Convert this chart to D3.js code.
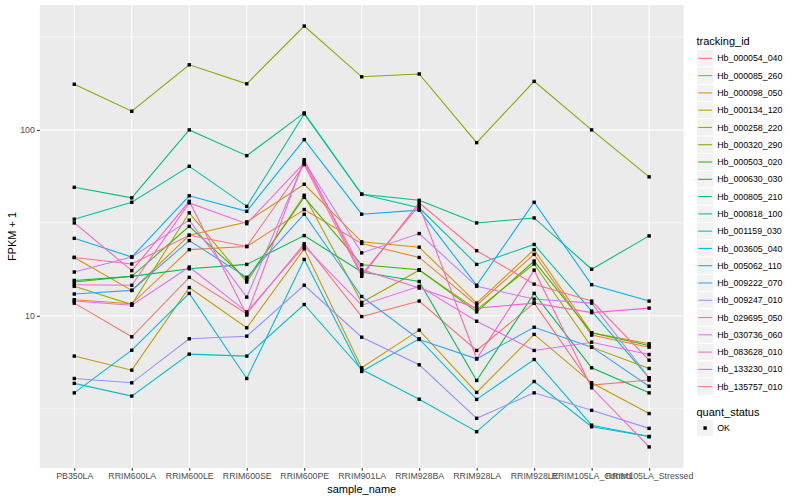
<!DOCTYPE html>
<html><head><meta charset="utf-8">
<script src="https://cdn.jsdelivr.net/npm/d3@7"></script>
<style>
body{margin:0;background:#fff}
text{font-family:"Liberation Sans",Arial,Helvetica,sans-serif}
</style>
</head><body>
<svg id="chart" width="800" height="500"></svg>
<script>
// ---- data ----
const samples = ["PB350LA","RRIM600LA","RRIM600LE","RRIM600SE","RRIM600PE","RRIM901LA","RRIM928BA","RRIM928LA","RRIM928LE","RRIM105LA_Control","RRIM105LA_Stressed"];
const trackingIds = ["Hb_000054_040","Hb_000085_260","Hb_000098_050","Hb_000134_120","Hb_000258_220","Hb_000320_290","Hb_000503_020","Hb_000630_030","Hb_000805_210","Hb_000818_100","Hb_001159_030","Hb_003605_040","Hb_005062_110","Hb_009222_070","Hb_009247_010","Hb_029695_050","Hb_030736_060","Hb_083628_010","Hb_133230_010","Hb_135757_010"];
const palette = ["#F8766D","#EA8331","#D89000","#C09B00","#A3A500","#7CAE00","#39B600","#00BB4E","#00BF7D","#00C1A3","#00BFC4","#00BAE0","#00B0F6","#35A2FF","#9590FF","#C77CFF","#E76BF3","#FA62DB","#FF62BC","#FF6C91"];
const statusLabels = ["OK"];
const yTickValues = [10, 100];
const yTickLabels = ["10", "100"];

const Hb_000054_040 = [11.7, 7.71, 16.1, 10.25, 24.4, 9.9, 12.0, 6.51, 11.7, 4.24, 4.51];
const Hb_000085_260 = [12.2, 11.6, 22.7, 23.6, 37.3, 24.5, 20.6, 11.4, 21.4, 7.87, 6.78];
const Hb_000098_050 = [20.6, 13.7, 27.1, 32.0, 51.0, 25.0, 23.4, 11.7, 22.7, 8.1, 7.07];
const Hb_000134_120 = [6.07, 5.10, 14.2, 8.62, 22.9, 5.25, 8.37, 3.87, 7.94, 4.36, 2.98];
const Hb_000258_220 = [14.4, 11.5, 35.8, 15.2, 44.5, 11.8, 17.6, 10.8, 19.0, 6.78, 5.21];
const Hb_000320_290 = [176, 126, 224, 177, 362, 193, 200, 85.4, 182.5, 100, 55.9];
const Hb_000503_020 = [15.2, 16.3, 30.3, 15.7, 43.4, 18.8, 17.7, 10.5, 19.7, 8.1, 6.92];
const Hb_000630_030 = [15.5, 16.3, 17.9, 18.9, 27.0, 17.2, 15.3, 4.49, 13.2, 5.25, 3.85];
const Hb_000805_210 = [49.1, 43.1, 100, 72.7, 123.4, 45.1, 41.8, 31.6, 33.6, 17.8, 26.9];
const Hb_000818_100 = [33.1, 40.8, 63.7, 38.8, 121.9, 45.1, 38.1, 18.9, 24.2, 10.6, 4.64];
const Hb_001159_030 = [4.33, 3.70, 6.22, 6.07, 11.5, 5.14, 3.56, 2.38, 4.43, 2.53, 2.24];
const Hb_003605_040 = [3.85, 6.53, 13.2, 4.60, 20.1, 5.02, 7.52, 3.55, 5.82, 2.58, 2.24];
const Hb_005062_110 = [26.1, 20.7, 44.2, 36.5, 88.7, 35.2, 37.0, 14.6, 40.8, 14.7, 12.0];
const Hb_009222_070 = [13.1, 13.7, 25.4, 16.1, 35.2, 12.7, 7.46, 5.87, 8.68, 6.78, 4.18];
const Hb_009247_010 = [4.60, 4.36, 7.52, 7.77, 14.6, 7.67, 5.45, 2.81, 3.85, 3.10, 2.48];
const Hb_029695_050 = [17.2, 20.7, 32.7, 12.6, 67.5, 21.8, 27.7, 14.4, 12.3, 11.7, 4.64];
const Hb_030736_060 = [12.0, 11.4, 18.3, 10.5, 23.7, 11.4, 14.4, 9.35, 6.51, 7.21, 6.19];
const Hb_083628_010 = [14.7, 14.6, 40.5, 31.3, 66.5, 17.7, 14.1, 11.0, 11.7, 10.4, 11.0];
const Hb_133230_010 = [31.6, 17.5, 41.3, 10.1, 69.2, 16.7, 39.3, 5.87, 17.6, 4.10, 1.97];
const Hb_135757_010 = [20.6, 19.0, 27.1, 23.6, 65.1, 16.3, 40.5, 22.4, 14.8, 12.0, 5.77];

const seriesValues = [Hb_000054_040,Hb_000085_260,Hb_000098_050,Hb_000134_120,Hb_000258_220,Hb_000320_290,Hb_000503_020,Hb_000630_030,Hb_000805_210,Hb_000818_100,Hb_001159_030,Hb_003605_040,Hb_005062_110,Hb_009222_070,Hb_009247_010,Hb_029695_050,Hb_030736_060,Hb_083628_010,Hb_133230_010,Hb_135757_010];

const series = trackingIds.map((id, i) => ({
  id, color: palette[i],
  values: samples.map((s, j) => ({sample: s, value: seriesValues[i][j], status: statusLabels[0]}))
}));
const allPoints = series.flatMap(s => s.values);

// ---- layout ----
const svg = d3.select("#chart");
const panel = {left: 39.8, right: 683.6, top: 5, bottom: 468};

const x = d3.scalePoint().domain(samples).range([panel.left, panel.right]).padding(0.6);
const ext = d3.extent(allPoints, d => Math.log10(d.value));
const pad = (ext[1] - ext[0]) * 0.05;
const y = d3.scaleLog().domain([Math.pow(10, ext[0] - pad), Math.pow(10, ext[1] + pad)]).range([panel.bottom, panel.top]);

svg.append("rect").attr("x", panel.left).attr("y", panel.top)
  .attr("width", panel.right - panel.left).attr("height", panel.bottom - panel.top)
  .attr("fill", "#EBEBEB");

// minor y grid (midpoints in log space)
const minorY = [];
for (let k = -1; k <= 4; k++) {
  const v = Math.pow(10, k + 0.5);
  if (v > y.domain()[0] && v < y.domain()[1]) minorY.push(v);
}
svg.append("g").selectAll("line").data(minorY).join("line")
  .attr("x1", panel.left).attr("x2", panel.right)
  .attr("y1", d => y(d)).attr("y2", d => y(d))
  .attr("stroke", "#fff").attr("stroke-width", 0.55);
svg.append("g").selectAll("line").data(yTickValues).join("line")
  .attr("x1", panel.left).attr("x2", panel.right)
  .attr("y1", d => y(d)).attr("y2", d => y(d))
  .attr("stroke", "#fff").attr("stroke-width", 1.1);
svg.append("g").selectAll("line").data(samples).join("line")
  .attr("x1", d => x(d)).attr("x2", d => x(d))
  .attr("y1", panel.top).attr("y2", panel.bottom)
  .attr("stroke", "#fff").attr("stroke-width", 1.1);

// lines
const line = d3.line().x(d => x(d.sample)).y(d => y(d.value));
svg.append("g").selectAll("path").data(series).join("path")
  .attr("d", d => line(d.values))
  .attr("fill", "none").attr("stroke", d => d.color).attr("stroke-width", 1.07);

// points
const ps = 3.4;
svg.append("g").selectAll("rect").data(allPoints).join("rect")
  .attr("x", d => x(d.sample) - ps/2).attr("y", d => y(d.value) - ps/2)
  .attr("width", ps).attr("height", ps).attr("fill", "#000");

// axes
const yAxis = d3.axisLeft(y).tickValues(yTickValues).tickFormat((d, i) => yTickLabels[i]).tickSize(2.75).tickPadding(2.2);
const gy = svg.append("g").attr("transform", `translate(${panel.left},0)`).call(yAxis);
const xAxis = d3.axisBottom(x).tickSize(2.75).tickPadding(2.2);
const gx = svg.append("g").attr("transform", `translate(0,${panel.bottom})`).call(xAxis);
[gx, gy].forEach(g => {
  g.select(".domain").remove();
  g.selectAll(".tick line").attr("stroke", "#333").attr("stroke-width", 1.07);
  g.selectAll(".tick text").attr("fill", "#4D4D4D").style("font-size", "8.8px")
   .style("font-family", '"Liberation Sans",Arial,sans-serif');
});

// axis titles
svg.append("text").attr("x", (panel.left + panel.right) / 2).attr("y", 492.5)
  .attr("text-anchor", "middle").style("font-size", "11px").attr("fill", "#000").text("sample_name");
svg.append("text").attr("transform", `translate(16.3,${(panel.top + panel.bottom) / 2}) rotate(-90)`)
  .attr("text-anchor", "middle").style("font-size", "11px").attr("fill", "#000").text("FPKM + 1");

// legend: tracking_id
const lg = svg.append("g");
const keyX = 696.5, keySize = 17.28, key0 = 49.7;
lg.append("text").attr("x", keyX).attr("y", 44.5).style("font-size", "11px").text("tracking_id");
const items = lg.selectAll("g.item").data(series).join("g").attr("class", "item")
  .attr("transform", (d, i) => `translate(${keyX},${key0 + i * keySize})`);
items.append("rect").attr("width", keySize).attr("height", keySize)
  .attr("fill", "#F2F2F2").attr("stroke", "#fff").attr("stroke-width", 1);
items.append("line").attr("x1", 1.7).attr("x2", keySize - 1.7)
  .attr("y1", keySize / 2).attr("y2", keySize / 2)
  .attr("stroke", d => d.color).attr("stroke-width", 1.07);
items.append("text").attr("x", keySize + 3.5).attr("y", keySize / 2 + 3.1)
  .style("font-size", "8.8px").text(d => d.id);

// legend: quant_status
const qTop = 419.4;
lg.append("text").attr("x", keyX).attr("y", 415.8).style("font-size", "11px").text("quant_status");
const q = lg.selectAll("g.q").data(statusLabels).join("g").attr("class", "q")
  .attr("transform", (d, i) => `translate(${keyX},${qTop + i * keySize})`);
q.append("rect").attr("width", keySize).attr("height", keySize)
  .attr("fill", "#F2F2F2").attr("stroke", "#fff").attr("stroke-width", 1);
q.append("rect").attr("x", keySize/2 - ps/2).attr("y", keySize/2 - ps/2).attr("width", ps).attr("height", ps).attr("fill", "#000");
q.append("text").attr("x", keySize + 3.5).attr("y", keySize / 2 + 3.1).style("font-size", "8.8px").text(d => d);
</script>
</body></html>
